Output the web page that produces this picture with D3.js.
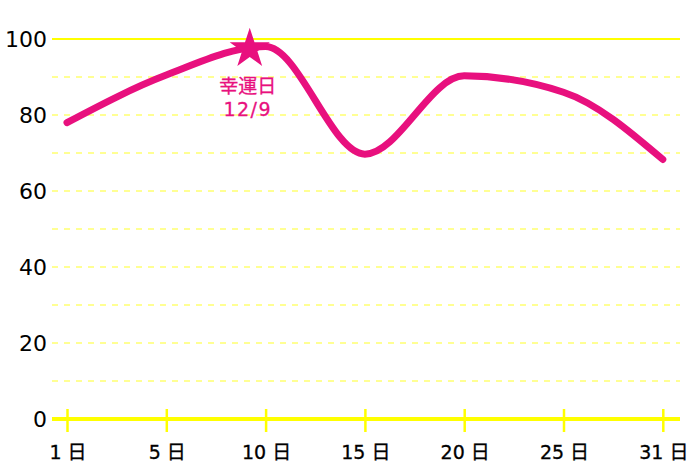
<!DOCTYPE html>
<html><head><meta charset="utf-8">
<script src="https://cdn.jsdelivr.net/npm/d3@7"></script>
<style>body{margin:0;background:#fff}svg{display:block}</style>
</head><body><svg id="c" width="700" height="467"></svg>
<script>
const days = [1, 5, 10, 15, 20, 25, 31];
const dayLabels = ["1 日", "5 日", "10 日", "15 日", "20 日", "25 日", "31 日"];
const values = [78, 90.5, 98, 69.7, 90.3, 86, 68.3];
const yTicks = [0, 20, 40, 60, 80, 100];
const gridVals = [10, 20, 30, 40, 50, 60, 70, 80, 90];
const luckyDay = 9;
const luckyValue = 97.4;
const luckyText = ["幸運日", "12/9"];

const pink = "#e8107e";
const svg = d3.select("#c");
const font = "'DejaVu Sans', 'Noto Sans CJK JP', sans-serif";

const x = d3.scaleLinear().domain(days).range(days.map((d, i) => 67 + i * 99.3));
const y = d3.scaleLinear().domain([0, 100]).range([419, 39]);

// dashed grid
svg.append("g").selectAll("line").data(gridVals).join("line")
  .attr("x1", 52).attr("x2", 680)
  .attr("y1", d => y(d)).attr("y2", d => y(d))
  .attr("stroke", "#ffff70").attr("stroke-width", 1.5)
  .attr("stroke-dasharray", "6,6");
// top solid line
svg.append("line").attr("x1", 52).attr("x2", 680)
  .attr("y1", y(100)).attr("y2", y(100))
  .attr("stroke", "#ffff00").attr("stroke-width", 2);

// y labels
svg.append("g").selectAll("text").data(yTicks).join("text")
  .attr("x", 47).attr("y", d => y(d)).attr("dy", "0.36em")
  .attr("text-anchor", "end").attr("font-family", font)
  .attr("font-size", 22).attr("fill", "#000").text(d => d);

// x axis
const xAxis = d3.axisBottom(x).tickValues(days).tickFormat((d, i) => dayLabels[i])
  .tickSize(0).tickPadding(0);
const gx = svg.append("g").attr("transform", `translate(0,${y(0)})`).call(xAxis);
gx.select(".domain").remove();
gx.selectAll(".tick text").remove();
gx.append("line").attr("x1", 52).attr("x2", 680).attr("y1", 0).attr("y2", 0)
  .attr("stroke", "#ffff00").attr("stroke-width", 4);
gx.selectAll(".tick").append("line").attr("y1", -10).attr("y2", 13)
  .attr("stroke", "#ffff00").attr("stroke-width", 2.5);
svg.append("g").selectAll("text").data(days).join("text")
  .attr("x", d => x(d) + 1).attr("y", 452).attr("dy", "0.36em")
  .attr("text-anchor", "middle").attr("font-family", font)
  .attr("font-size", 19).attr("fill", "#000").attr("stroke", "#000").attr("stroke-width", 0.3)
  .text((d, i) => dayLabels[i]);

// line
const line = d3.line().x((d, i) => x(days[i])).y(d => y(d)).curve(d3.curveMonotoneX);
svg.append("path").datum(values).attr("d", line)
  .attr("fill", "none").attr("stroke", pink).attr("stroke-width", 7)
  .attr("stroke-linecap", "round").attr("stroke-linejoin", "round");

// star
const star = d3.symbol().type(d3.symbolStar).size(500);
svg.append("path").attr("d", star())
  .attr("transform", `translate(${x(luckyDay) + 4},${y(luckyValue)})`)
  .attr("fill", pink);
svg.append("g").selectAll("text").data(luckyText).join("text")
  .attr("x", x(luckyDay) + 2).attr("y", (d, i) => 86 + i * 23).attr("dy", "0.36em")
  .attr("text-anchor", "middle").attr("font-family", font)
  .attr("font-size", 19).attr("letter-spacing", (d, i) => i ? 1.5 : 0)
  .attr("fill", pink).attr("stroke", pink).attr("stroke-width", 0.3).text(d => d);
</script></body></html>
